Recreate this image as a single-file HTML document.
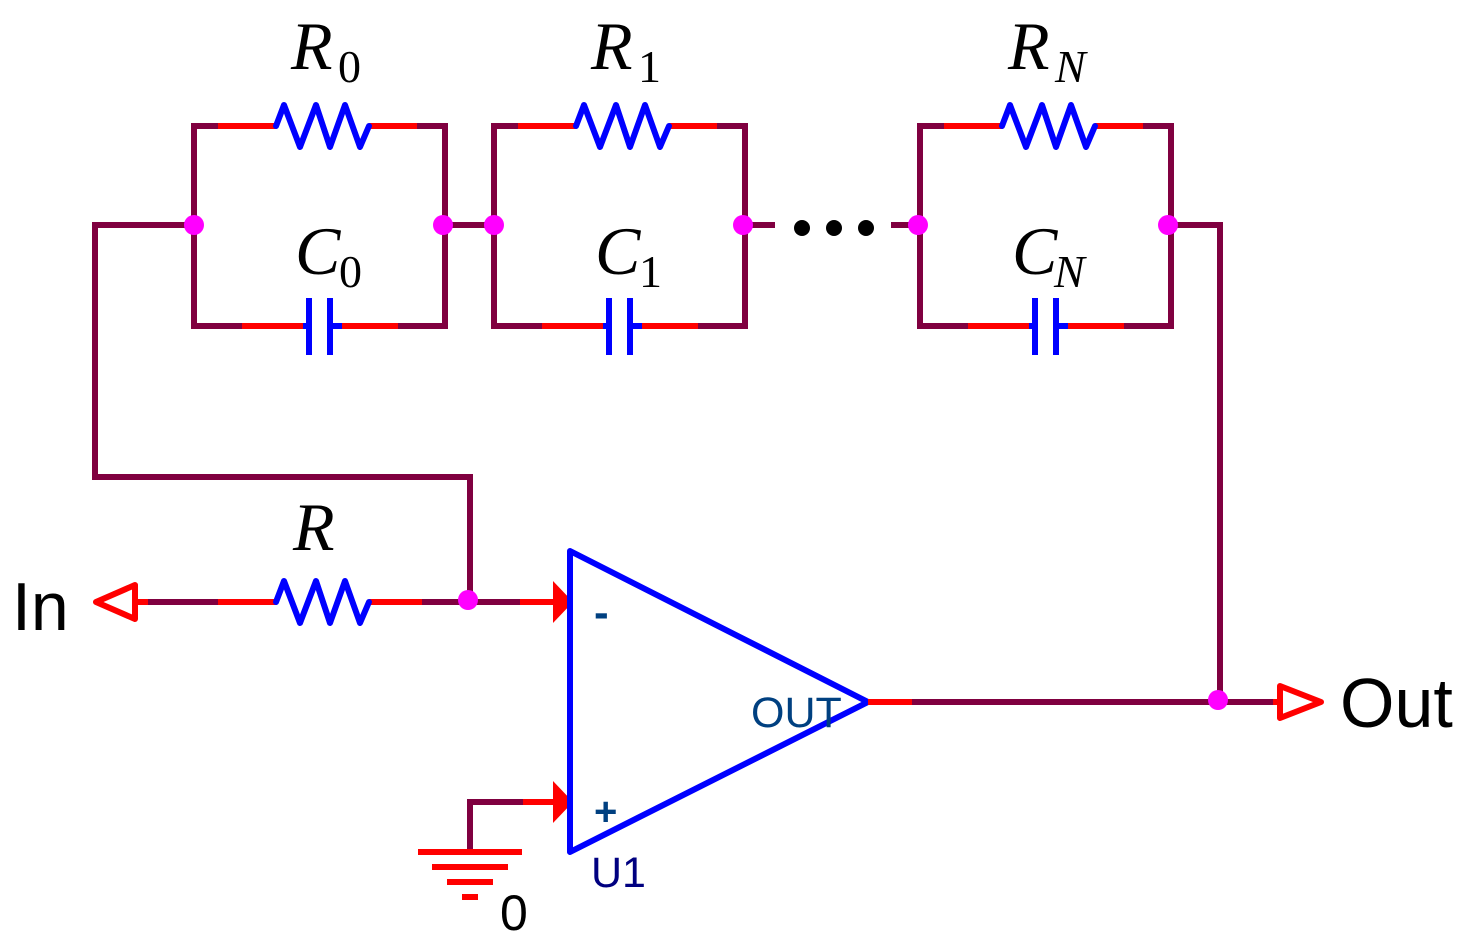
<!DOCTYPE html>
<html><head><meta charset="utf-8"><style>
html,body{margin:0;padding:0;background:#fff;}
svg{display:block;}
.w{stroke:#800040;stroke-width:6;fill:none;stroke-linecap:square}
.r{stroke:#ff0000;stroke-width:6;fill:none}
.b{stroke:#0000ff;stroke-width:6;fill:none;stroke-linejoin:round;stroke-linecap:round}
.lab{font-family:"Liberation Serif",serif;font-style:italic;fill:#000}
.sub{font-family:"Liberation Serif",serif;fill:#000}
.ss{font-family:"Liberation Sans",sans-serif}
</style></head><body>
<svg width="1467" height="942" viewBox="0 0 1467 942" xmlns="http://www.w3.org/2000/svg">
<defs>
<g id="blk">
  <path class="w" d="M218 126 H194 V326 H242 M417 126 H445 V326 H398"/>
  <path class="r" d="M218 126 H276 M369 126 H417 M242 326 H303 M342 326 H398"/>
  <path class="b" d="M276 126 L284 105 L300 147 L316 105 L330 147 L345 105 L360 147 L369 126"/>
  <path class="b" style="stroke-linecap:butt" d="M303 326 H308 M330 326 H342 M309 298 V355 M330 298 V355"/>
</g>
</defs>
<use href="#blk"/>
<use href="#blk" transform="translate(300,0)"/>
<use href="#blk" transform="translate(726,0)"/>
<!-- labels -->
<text class="lab" x="291" y="69" font-size="68">R</text><text class="sub" x="338" y="82" font-size="46">0</text>
<text class="lab" x="591" y="69" font-size="68">R</text><text class="sub" x="638" y="82" font-size="46">1</text>
<text class="lab" x="1008" y="69" font-size="68">R</text><text class="lab" x="1055" y="82" font-size="46">N</text>
<text class="lab" x="295" y="274" font-size="68">C</text><text class="sub" x="339" y="287" font-size="46">0</text>
<text class="lab" x="595" y="274" font-size="68">C</text><text class="sub" x="639" y="287" font-size="46">1</text>
<text class="lab" x="1012" y="274" font-size="68">C</text><text class="lab" x="1054" y="287" font-size="46">N</text>
<text class="lab" x="293" y="550" font-size="68">R</text>
<!-- connecting wires -->
<path class="w" d="M194 225 H95 V477 H470 V600"/>
<path class="w" d="M445 225 H494"/>
<path class="w" d="M745 225 H772 M894 225 H920"/>
<circle cx="802" cy="228" r="8" fill="#000"/><circle cx="834" cy="228" r="8" fill="#000"/><circle cx="866" cy="228" r="8" fill="#000"/>
<path class="w" d="M1170 225 H1220 V702"/>
<!-- input line -->
<path class="w" d="M148 602 H218 M422 602 H520"/>
<path class="r" d="M136 602 H148 M218 602 H276 M369 602 H422 M520 602 H555"/>
<path class="b" d="M276 602 L284 581 L300 623 L316 581 L330 623 L345 581 L360 623 L369 602"/>
<polygon points="96,602 135,585 135,619" fill="none" stroke="#ff0000" stroke-width="6" stroke-linejoin="round"/>
<polygon points="553,581 573,602 553,623" fill="#ff0000"/>
<!-- plus input & ground -->
<path class="w" d="M470 852 V802 H523"/>
<path class="r" d="M523 802 H555"/>
<polygon points="553,781 573,802 553,823" fill="#ff0000"/>
<path stroke="#ff0000" stroke-width="6" d="M418 852 H522 M432 867 H508 M447 882 H493 M462 897 H478"/>
<!-- opamp -->
<polygon points="570,551 868,702 570,852" fill="none" stroke="#0000ff" stroke-width="6" stroke-linejoin="round"/>
<text class="ss" x="594" y="627" font-size="44" font-weight="bold" fill="#004080">-</text>
<text class="ss" x="594" y="825" font-size="40" font-weight="bold" fill="#004080">+</text>
<text class="ss" x="751" y="727" font-size="43" fill="#004080">OUT</text>
<text class="ss" x="591" y="887" font-size="43" fill="#000080">U1</text>
<text class="ss" x="500" y="930" font-size="50" fill="#000">0</text>
<!-- output -->
<path class="r" d="M868 702 H915 M1270 702 H1280"/>
<path class="w" d="M915 702 H1270"/>
<polygon points="1280,686 1321,702 1280,718" fill="none" stroke="#ff0000" stroke-width="6" stroke-linejoin="round"/>
<!-- nodes -->
<g fill="#ff00ff">
<circle cx="194" cy="225" r="10"/><circle cx="443" cy="225" r="10"/>
<circle cx="494" cy="225" r="10"/><circle cx="743" cy="225" r="10"/>
<circle cx="918" cy="225" r="10"/><circle cx="1168" cy="225" r="10"/>
<circle cx="468" cy="600" r="10"/><circle cx="1218" cy="700" r="10"/>
</g>
<text class="ss" x="12" y="630" font-size="68" fill="#000">In</text>
<text class="ss" x="1340" y="727" font-size="70" fill="#000">Out</text>
</svg>
</body></html>
